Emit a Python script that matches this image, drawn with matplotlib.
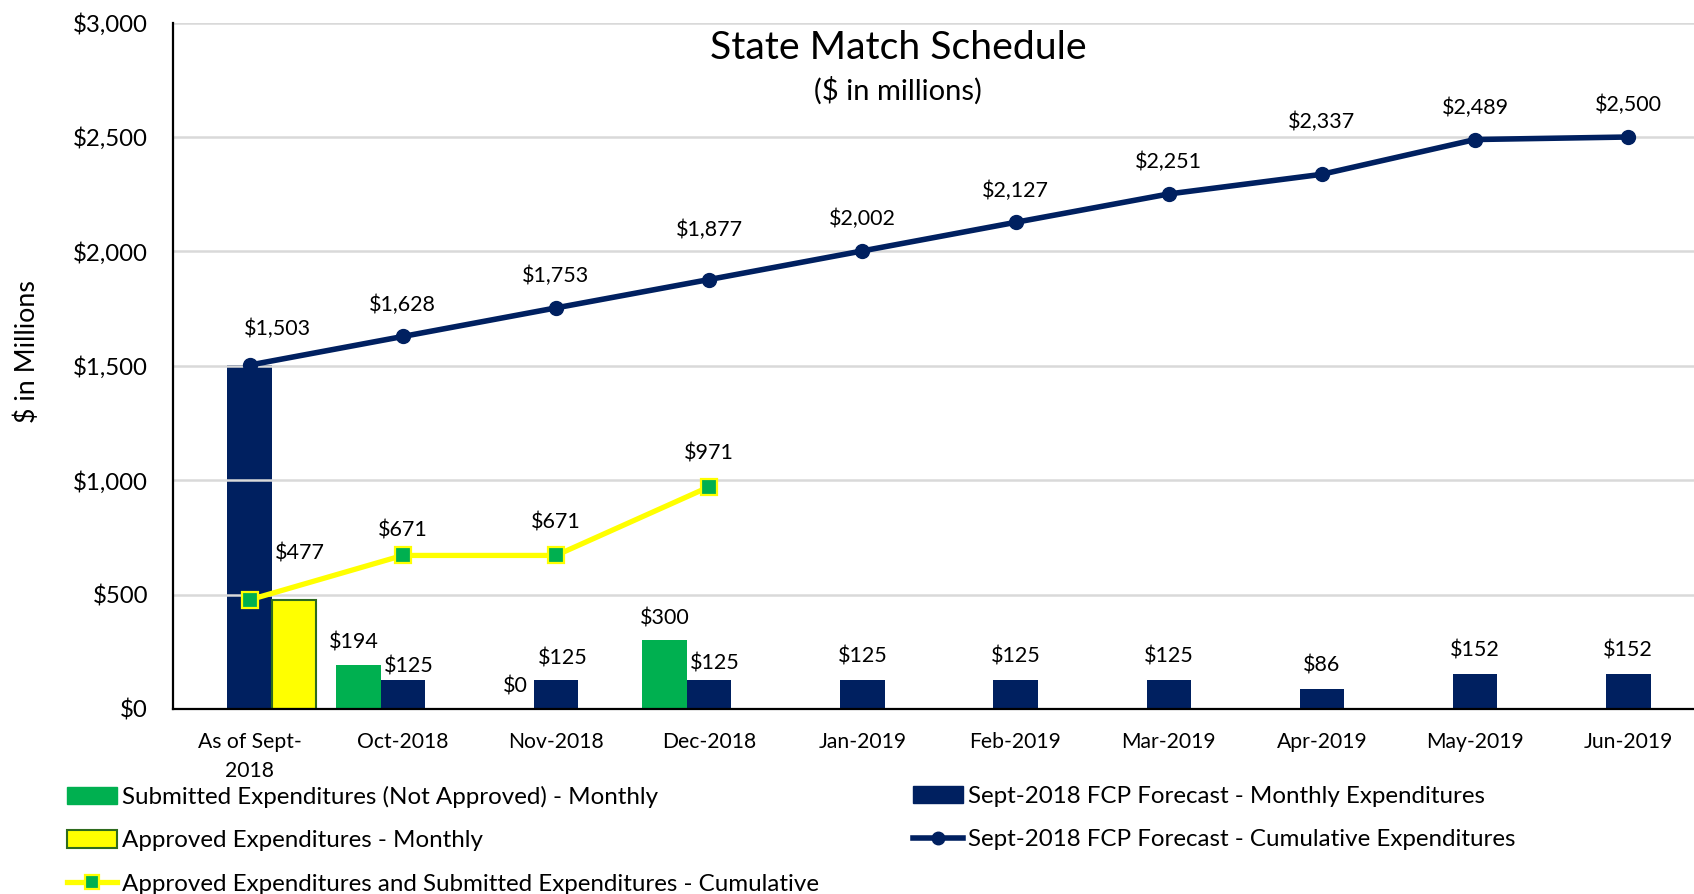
import matplotlib
matplotlib.use("Agg")
import matplotlib.pyplot as plt
from matplotlib.patches import Patch
from matplotlib.lines import Line2D
import numpy as np

plt.rcParams['font.family'] = ['Lato', 'DejaVu Sans']

categories = ["As of Sept-\n2018", "Oct-2018", "Nov-2018", "Dec-2018", "Jan-2019",
              "Feb-2019", "Mar-2019", "Apr-2019", "May-2019", "Jun-2019"]

# Monthly series (None = no bar in that month)
submitted_monthly = [None, 194, 0, 300, None, None, None, None, None, None]
approved_monthly = [477, None, None, None, None, None, None, None, None, None]
forecast_monthly = [1503, 125, 125, 125, 125, 125, 125, 86, 152, 152]

# Cumulative series
approved_submitted_cum = [477, 671, 671, 971]
forecast_cum = [1503, 1628, 1753, 1877, 2002, 2127, 2251, 2337, 2489, 2500]

NAVY = "#002060"
GREEN = "#00B050"
YELLOW = "#FFFF00"
DKGREEN = "#2E6B1E"

fig = plt.figure(figsize=(16.94, 8.94), dpi=100)
ax = fig.add_axes([0.1021, 0.207, 0.898, 0.7677])

x = np.arange(len(categories))
bw = 0.29


def money(v):
    return "${:,.0f}".format(v)


# bars: green left, navy centred, yellow right
for i, v in enumerate(submitted_monthly):
    if v is not None:
        ax.bar(x[i] - bw, v, bw, color=GREEN, zorder=1)
for i, v in enumerate(forecast_monthly):
    ax.bar(x[i], v, bw, color=NAVY, zorder=1)
for i, v in enumerate(approved_monthly):
    if v is not None:
        ax.bar(x[i] + bw, v, bw, color=YELLOW, edgecolor=DKGREEN, linewidth=1.5, zorder=1)

# cumulative lines
ax.plot(x[:len(approved_submitted_cum)], approved_submitted_cum, color=YELLOW, lw=3.8,
        marker="s", markersize=12, markerfacecolor=GREEN, markeredgecolor=YELLOW,
        markeredgewidth=1.6, zorder=4)
ax.plot(x, forecast_cum, color=NAVY, lw=4, marker="o", markersize=10, zorder=5)

lab_fs = 15.5

# per-label nudges (points) to keep labels clear of each other
fm_nudge = {1: (4, -7), 2: (5, -1), 3: (4, -5)}
sub_nudge = {1: (-3, 16), 2: (3, 16), 3: (0, 16)}
fc_nudge = {0: (20, 26), 3: (0, 36), 7: (0, 38)}
cum_nudge = {1: (0, 18), 2: (0, 24), 3: (0, 24)}

for i, v in enumerate(forecast_monthly):
    if i == 0:
        continue
    dx, dy = fm_nudge.get(i, (0, 0))
    ax.annotate(money(v), (x[i], v), xytext=(dx, 17 + dy), textcoords="offset points",
                ha="center", va="center", fontsize=lab_fs)
for i, v in enumerate(submitted_monthly):
    if v is not None:
        ax.annotate(money(v), (x[i] - bw, v), xytext=sub_nudge.get(i, (0, 16)),
                    textcoords="offset points", ha="center", va="center", fontsize=lab_fs)
for i, v in enumerate(approved_monthly):
    if v is not None:
        ax.annotate(money(v), (x[i] + bw, v), xytext=(4, 33), textcoords="offset points",
                    ha="center", va="center", fontsize=lab_fs)

for i, v in enumerate(forecast_cum):
    ax.annotate(money(v), (x[i], v), xytext=fc_nudge.get(i, (0, 23)),
                textcoords="offset points", ha="center", va="center", fontsize=lab_fs)
for i, v in enumerate(approved_submitted_cum):
    if i == 0:
        continue
    ax.annotate(money(v), (x[i], v), xytext=cum_nudge.get(i, (0, 21)),
                textcoords="offset points", ha="center", va="center", fontsize=lab_fs)

ax.set_xlim(-0.5, 9.43)
ax.set_ylim(0, 3000)
ax.set_yticks(np.arange(0, 3001, 500))
ax.set_yticklabels([money(v) for v in np.arange(0, 3001, 500)])
ax.set_xticks(x)
ax.set_xticklabels(categories, linespacing=1.6)
ax.tick_params(axis="both", length=0)
ax.tick_params(axis="y", pad=18, labelsize=17.3)
ax.tick_params(axis="x", pad=16.5, labelsize=15.2)

ax.set_axisbelow(False)
ax.yaxis.grid(True, color="#D9D9D9", lw=1.8, zorder=2.5)
for s in ("top", "right"):
    ax.spines[s].set_visible(False)
for s in ("left", "bottom"):
    ax.spines[s].set_color("black")
    ax.spines[s].set_linewidth(1.6)
    ax.spines[s].set_zorder(6)

fig.text(0.530, 0.946, "State Match Schedule", ha="center", va="center", fontsize=28.3)
fig.text(0.530, 0.8984, "($ in millions)", ha="center", va="center", fontsize=21)
fig.text(0.0161, 0.607, "$ in Millions", ha="center", va="center", rotation=90, fontsize=19.3)

# legend
h_sub = Patch(facecolor=GREEN, edgecolor=GREEN)
h_app = Patch(facecolor=YELLOW, edgecolor=DKGREEN, linewidth=1.5)
h_cum = Line2D([], [], color=YELLOW, lw=3.8, marker="s", markersize=10,
               markerfacecolor=GREEN, markeredgecolor=YELLOW, markeredgewidth=1.6)
h_fm = Patch(facecolor=NAVY, edgecolor=NAVY)
h_fc = Line2D([], [], color=NAVY, lw=4, marker="o", markersize=9)

leg_kw = dict(frameon=False, fontsize=17.4, handlelength=2.05, handleheight=0.72,
              handletextpad=0.22, labelspacing=0.93, borderpad=0, borderaxespad=0,
              loc="upper left")
leg1 = fig.legend([h_sub, h_app, h_cum],
                  ["Submitted Expenditures (Not Approved) - Monthly",
                   "Approved Expenditures - Monthly",
                   "Approved Expenditures and Submitted Expenditures - Cumulative"],
                  bbox_to_anchor=(0.0396, 0.121), **leg_kw)
leg2 = fig.legend([h_fm, h_fc],
                  ["Sept-2018 FCP Forecast - Monthly Expenditures",
                   "Sept-2018 FCP Forecast - Cumulative Expenditures"],
                  bbox_to_anchor=(0.539, 0.121), **leg_kw)

fig.savefig("out.png", dpi=100)
